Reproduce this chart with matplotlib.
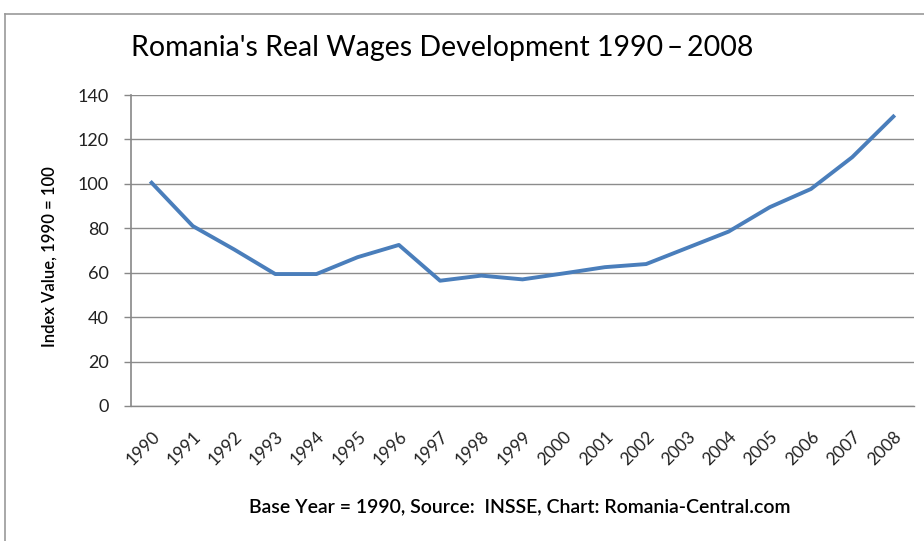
import matplotlib.pyplot as plt
from matplotlib.lines import Line2D

years = [str(y) for y in range(1990, 2009)]
index_value = [100.5, 81, 70.5, 59.4, 59.4, 67, 72.5, 56.4, 58.7, 57,
               59.7, 62.5, 63.9, 71.2, 78.5, 89.5, 97.7, 112, 130.3]
yticks = [0, 20, 40, 60, 80, 100, 120, 140]

plt.rcParams['font.family'] = ['Lato', 'DejaVu Sans']

fig = plt.figure(figsize=(9.24, 5.41), dpi=100)
ax = fig.add_axes([131/924, 1 - 406/541, (914 - 131)/924, (406 - 95)/541])

x = list(range(len(years)))
ax.plot(x, index_value, color='#4a7ebb', linewidth=2.8, solid_joinstyle='round')

ax.set_xlim(-0.5, len(years) - 0.5)
ax.set_ylim(0, 140)
ax.set_yticks(yticks)
ax.set_yticklabels([str(v) for v in yticks], fontsize=13, color='#222222')
ax.set_xticks(x)
ax.set_xticklabels(years, rotation=45, ha='right', va='top', rotation_mode='anchor',
                   fontsize=12.5, color='#222222')
ax.tick_params(axis='x', length=0, pad=16)
ax.tick_params(axis='y', length=5, color='#888888', width=1, pad=11)
ax.yaxis.grid(True, color='#8c8c8c', linewidth=1)
ax.set_axisbelow(True)

for s in ['top', 'right']:
    ax.spines[s].set_visible(False)
ax.spines['left'].set_color('#888888')
ax.spines['bottom'].set_color('#888888')
ax.spines['left'].set_linewidth(1.2)
ax.spines['bottom'].set_linewidth(1)

ax.set_ylabel('Index Value, 1990 = 100', fontsize=12, fontweight='semibold')
ax.yaxis.set_label_coords((58 - 131)/783, 0.48)
fig.text(442/924, 1 - 48/541, "Romania's Real Wages Development 1990\u2009\u2013\u20092008",
         fontsize=20.5, ha='center', va='center')
fig.text(520/924, 1 - 507/541, 'Base Year = 1990, Source:  INSSE, Chart: Romania-Central.com',
         fontsize=14, fontweight='semibold', ha='center', va='center')

# chart frame (left and top edges)
fig.add_artist(Line2D([5/924, 5/924], [0, 1 - 14/541], color='#999999', linewidth=1.2))
fig.add_artist(Line2D([5/924, 1], [1 - 14/541, 1 - 14/541], color='#999999', linewidth=1.2))

fig.savefig('out.png', dpi=100)
